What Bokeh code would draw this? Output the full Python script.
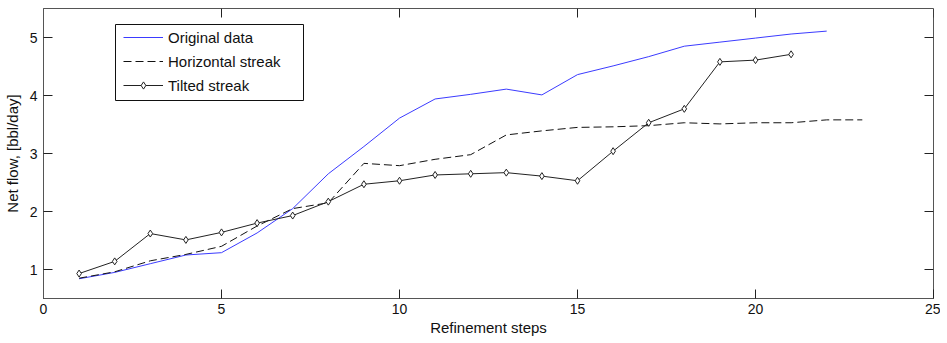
import math
from bokeh.plotting import figure
from bokeh.models import Range1d, FixedTicker, Legend, LegendItem, BoxAnnotation
from bokeh.embed import file_html
from bokeh.resources import INLINE

steps_orig = list(range(1, 23))
original = [0.84, 0.95, 1.10, 1.25, 1.29, 1.63, 2.05, 2.65, 3.12, 3.61, 3.94, 4.02, 4.11, 4.01, 4.36,
            4.51, 4.67, 4.85, 4.92, 4.99, 5.06, 5.11]
steps_horiz = list(range(1, 24))
horizontal = [0.85, 0.96, 1.15, 1.26, 1.40, 1.75, 2.05, 2.15, 2.83, 2.79, 2.90, 2.98, 3.32, 3.39, 3.45,
              3.46, 3.48, 3.53, 3.51, 3.53, 3.53, 3.58, 3.58]
steps_tilt = list(range(1, 22))
tilted = [0.93, 1.14, 1.62, 1.51, 1.64, 1.80, 1.93, 2.17, 2.47, 2.53, 2.63, 2.65, 2.67, 2.61, 2.53,
          3.04, 3.53, 3.77, 4.58, 4.61, 4.71]

x_ticks = [0, 5, 10, 15, 20, 25]
y_ticks = [1, 2, 3, 4, 5]
X_MIN, X_MAX = 0, 25
Y_MIN, Y_MAX = 0.5, 5.5

FONT = "Liberation Sans"
FRAME = "#555555"
TICK_LEN = 9

p = figure(width=940, height=338, output_backend="svg", toolbar_location=None,
           x_range=Range1d(X_MIN, X_MAX), y_range=Range1d(Y_MIN, Y_MAX),
           min_border_left=42, min_border_right=7, min_border_top=8, min_border_bottom=40,
           x_axis_label="Refinement steps", y_axis_label="Net flow, [bbl/day]")
p.xgrid.visible = False
p.ygrid.visible = False
p.outline_line_color = FRAME
p.outline_line_width = 1

def style(ax, ticks):
    ax.ticker = FixedTicker(ticks=ticks)
    ax.axis_line_color = FRAME
    ax.major_tick_line_color = "#222222"
    ax.major_tick_in = TICK_LEN
    ax.major_tick_out = 0
    ax.minor_tick_line_color = None
    ax.major_label_text_font = FONT
    ax.major_label_text_font_size = "14px"
    ax.major_label_text_color = "#111111"
    ax.axis_label_text_font = FONT
    ax.axis_label_text_font_size = "15px"
    ax.axis_label_text_font_style = "normal"
    ax.axis_label_text_color = "#111111"

style(p.xaxis[0], x_ticks)
style(p.yaxis[0], y_ticks)
p.xaxis[0].major_label_standoff = 5
p.xaxis[0].axis_label_standoff = 2
p.yaxis[0].major_label_standoff = 6
p.yaxis[0].axis_label_standoff = 6

# inward ticks on top and right edges of the box (screen-length rays)
p.ray(x=x_ticks, y=[Y_MAX] * len(x_ticks), length=TICK_LEN, length_units="screen",
      angle=-math.pi / 2, line_color="#222222", line_width=1)
p.ray(x=[X_MAX] * len(y_ticks), y=y_ticks, length=TICK_LEN, length_units="screen",
      angle=math.pi, line_color="#222222", line_width=1)

r1 = p.line(steps_orig, original, line_color="#3b3bff", line_width=1)
r2 = p.line(steps_horiz, horizontal, line_color="#111111", line_width=1, line_dash="8 4")
r3 = p.line(steps_tilt, tilted, line_color="#222222", line_width=1)
r3m = p.scatter(steps_tilt, tilted, marker="diamond", size=7, line_color="#222222",
                fill_color="white", line_width=1)

# legend frame (wider than the auto-sized legend, as in the reference)
LEG_L, LEG_B, LEG_W, LEG_H = 72, 198, 188, 76
box = BoxAnnotation(left=LEG_L, right=LEG_L + LEG_W, bottom=LEG_B, top=LEG_B + LEG_H,
                    left_units="screen", right_units="screen",
                    bottom_units="screen", top_units="screen",
                    fill_color="white", fill_alpha=1, line_color="#111111", line_width=1,
                    line_alpha=1)
p.add_layout(box)

legend = Legend(items=[LegendItem(label="Original data", renderers=[r1]),
                       LegendItem(label="Horizontal streak", renderers=[r2]),
                       LegendItem(label="Tilted streak", renderers=[r3, r3m])],
                location=(80, 204), orientation="vertical")
legend.label_text_font = FONT
legend.label_text_font_size = "15px"
legend.label_text_color = "#111111"
legend.glyph_width = 40
legend.glyph_height = 18
legend.label_height = 18
legend.spacing = 6
legend.padding = 6
legend.margin = 0
legend.label_standoff = 5
legend.border_line_color = None
legend.background_fill_alpha = 0
p.add_layout(legend, "center")

open("out.html", "w").write(file_html(p, INLINE))
